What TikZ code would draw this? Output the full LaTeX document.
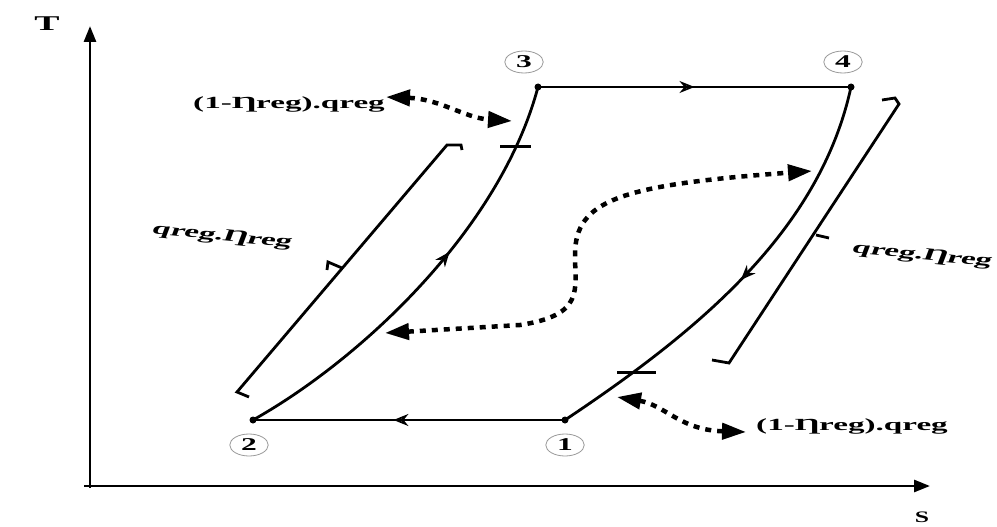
\documentclass[tikz,border=0pt]{standalone}
\usepackage{fontspec}
\setmainfont{Liberation Serif}
\usetikzlibrary{arrows.meta,decorations.markings}
\begin{document}
\begin{tikzpicture}[x=1pt,y=-1pt,
  axis/.style={line width=2.8pt,-{Triangle[length=16pt,width=12pt]}},
  proc/.style={line width=2.8pt},
  brk/.style={line width=2.8pt},
  dots/.style={line width=4.5pt,dash pattern=on 6pt off 6pt,
     {Triangle[length=24pt,width=16pt]}-{Triangle[length=24pt,width=16pt]}},
  lbl/.style={font=\fontsize{17}{17}\selectfont\bfseries,inner sep=1pt,xscale=1.95,transform shape},
  st/.style={circle,draw=gray!80,line width=0.8pt,inner sep=0pt,minimum size=22pt,
     font=\fontsize{18}{18}\selectfont\bfseries,xscale=1.75,transform shape},
  pt/.style={circle,fill=black,inner sep=0pt,minimum size=7pt},
  midarrow/.style={postaction={decorate},decoration={markings,
     mark=at position #1 with {\arrow{Stealth[length=15pt,width=12pt,open,line width=1.8pt]}}}}
]
\useasboundingbox (0,0) rectangle (997,527);
% axes
\coordinate (O) at (90,486);
\coordinate (Ty) at (90,26);
\coordinate (Sx) at (930,486);
\draw[axis] (90,488) -- (Ty);
\draw[axis] (84,486) -- (Sx);
\node[font=\fontsize{21}{21}\selectfont\bfseries,xscale=1.8,transform shape] (T) at (47,24) {T};
\node[font=\fontsize{16}{16}\selectfont\bfseries,xscale=1.6,transform shape,inner sep=1pt] (S) at (922,517) {S};
% state points
\node[pt] (p1) at (565,420) {};
\node[pt] (p2) at (253,420) {};
\node[pt] (p3) at (538,87) {};
\node[pt] (p4) at (851,87) {};
\node[st] (n1) at (565,445) {1};
\node[st] (n2) at (249,445) {2};
\node[st] (n3) at (524,62) {3};
\node[st] (n4) at (843,62) {4};
% processes
\draw[proc,midarrow=0.5] (p3.center) -- (p4.center);
\draw[proc,midarrow=0.55] (p1.center) -- (p2.center);
\draw[proc,midarrow=0.58] (p2.center) .. controls (360,360) and (500,230) .. (p3.center);
\draw[proc,midarrow=0.5] (p4.center) .. controls (820,230) and (700,330) .. (p1.center);
% ticks on curves
\draw[line width=3pt] (500,146) -- (531,146);
\draw[line width=3pt] (617,372) -- (656,372);
% left bracket
\draw[brk] (249,397) -- (237,392) -- (447,145) -- (461,145) -- (462,150);
\draw[brk] (342,268) -- (328,262) -- (327,270);
% right bracket
\draw[brk] (882,100) -- (895,98) -- (899,104) -- (729,363) -- (712,360);
\draw[brk] (816,235) -- (829,238);
% labels
\node[lbl,rotate=-11] (ql) at (222,237) {qreg.Ƞreg};
\node[lbl,rotate=-11] (qr) at (922,256) {qreg.Ƞreg};
\node[lbl] (top) at (289,104) {(1-Ƞreg).qreg};
\node[lbl] (bot) at (852,426) {(1-Ƞreg).qreg};
% dotted arrows
\coordinate (ta) at (386,97);
\coordinate (tb) at (512,121);
\draw[dots] (ta) .. controls (440,99) and (465,118) .. (tb);
\coordinate (ba) at (617,397);
\coordinate (bb) at (746,432);
\draw[dots] (ba) .. controls (665,405) and (680,430) .. (bb);
\coordinate (sa) at (385,333);
\coordinate (sb) at (812,171);
\draw[dots] (sa) -- (520,325) .. controls (585,315) and (575,290) .. (575,255)
   .. controls (575,200) and (620,185) .. (sb);
\end{tikzpicture}
\end{document}
